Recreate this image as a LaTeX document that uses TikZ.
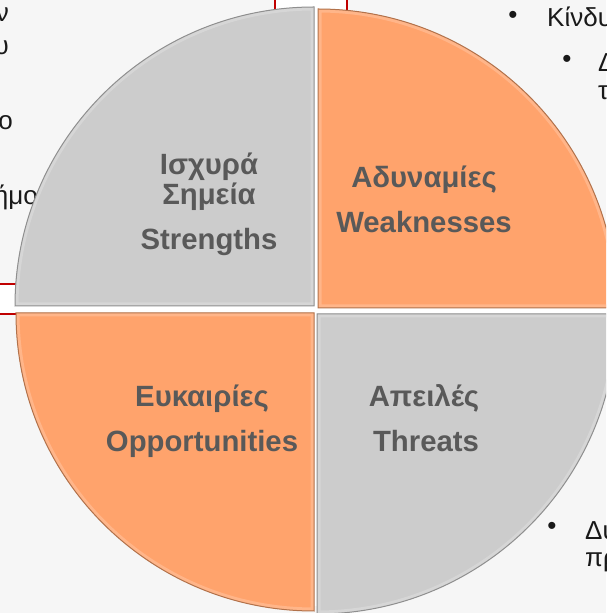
\documentclass[tikz,border=0pt]{standalone}
\usepackage{fontspec}
\setmainfont{Liberation Sans}
\usepackage{tikz}

\definecolor{swotgray}{HTML}{CCCCCC}
\definecolor{swotorange}{HTML}{FFA36C}
\definecolor{labelgray}{HTML}{595959}
\definecolor{slidebg}{HTML}{F6F6F6}
\definecolor{boxred}{HTML}{C00000}

\newcommand{\quarter}[2]{%
  \begin{scope}
  \clip #2;
  \fill[#1] #2;
  \draw[#1!80!white,line width=7pt] #2;
  \end{scope}
  \draw[#1!70!black,line width=1pt] #2;}

\begin{document}
\begin{tikzpicture}[x=1pt,y=1pt,
  lbl/.style={text=labelgray,font=\fontsize{29.3}{31}\selectfont\bfseries,anchor=base,inner sep=0pt},
  frag/.style={text=black!90,font=\fontsize{26}{30}\selectfont,inner sep=0pt}]
\useasboundingbox (0,0) rectangle (606,613);
\clip (0,0) rectangle (606,613);
\fill[slidebg] (0,0) rectangle (606,613);

% text boxes behind the circle
\fill[white] (0,299) rectangle (60,329);
\draw[boxred,line width=1.4pt] (0,329) -- (60,329) (0,299) -- (60,299);
\fill[white] (275,575) rectangle (347,613);
\draw[boxred,line width=1.4pt] (275,575) -- (275,613) (347,575) -- (347,613);

\node[frag,anchor=base east] (l1) at (9,591) {ν};
\node[frag,anchor=base east] (l2) at (9,558) {υ};
\node[frag,anchor=base east] (l3) at (13,483) {ο};
\node[frag,anchor=base east] (l4) at (38,408) {ήμο};

\node[frag] (b1) at (513,596) {•};
\node[frag,anchor=base west] (r1) at (547,586) {Κίνδυ};
\node[frag] (b2) at (567,552) {•};
\node[frag,anchor=base west] (r2) at (598,541) {Δ};
\node[frag,anchor=base west] (r3) at (598,513) {τ};
\node[frag] (b3) at (552,85) {•};
\node[frag,anchor=base west] (r4) at (585,73) {Δυ};
\node[frag,anchor=base west] (r5) at (585,46) {πρ};

% gaps between the quarters
\begin{scope}
\clip (316,303) circle (296pt);
\fill[white] (314,0) rectangle (318,613);
\fill[white] (0,299) rectangle (606,307);
\end{scope}

\quarter{swotgray}{(314,307) -- ++(-299,0) arc[start angle=180,end angle=90,radius=299pt] -- cycle}
\quarter{swotorange}{(318,305) -- ++(0,299) arc[start angle=90,end angle=0,radius=299pt] -- cycle}
\quarter{swotorange}{(314,300) -- ++(-298,0) arc[start angle=180,end angle=270,radius=298pt] -- cycle}
\quarter{swotgray}{(317,299) -- ++(0,-300) arc[start angle=270,end angle=360,radius=300pt] -- cycle}

\node[lbl] (s1) at (209,438) {Ισχυρά};
\node[lbl] (s2) at (209,408) {Σημεία};
\node[lbl] (s3) at (209,363) {Strengths};
\node[lbl] (w1) at (424,425) {Αδυναμίες};
\node[lbl] (w2) at (424,380) {Weaknesses};
\node[lbl] (o1) at (202,206) {Ευκαιρίες};
\node[lbl] (o2) at (202,161) {Opportunities};
\node[lbl] (t1) at (424,206) {Απειλές};
\node[lbl] (t2) at (426,161) {Threats};
\end{tikzpicture}
\end{document}
